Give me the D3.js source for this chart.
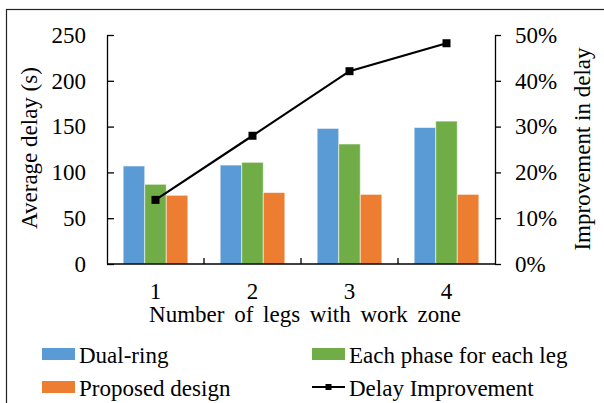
<!DOCTYPE html>
<html>
<head>
<meta charset="utf-8">
<script src="https://cdn.jsdelivr.net/npm/d3@7"></script>
<style>
  html, body { margin: 0; padding: 0; background: #fff; }
  svg { display: block; }
  svg text { font-family: "Liberation Serif", "DejaVu Serif", "Noto Serif", serif; fill: #000; }
</style>
</head>
<body>
<svg id="chart" width="604" height="403"></svg>
<script>
// Number of legs with a work zone
const categories = ["1", "2", "3", "4"];
// Average delay (s) per signal design
const dualRing = [107, 108, 148, 149];
const eachPhase = [87, 111, 131, 156];
const proposed = [75, 78, 76, 76];
// Improvement in delay of the proposed design (fraction)
const improvement = [0.14, 0.28, 0.421, 0.482];
const leftTicks = [0, 50, 100, 150, 200, 250];
const rightTicks = [0, 0.1, 0.2, 0.3, 0.4, 0.5];

const seriesNames = ["Dual-ring", "Each phase for each leg", "Proposed design"];
const seriesValues = [dualRing, eachPhase, proposed];
const colors = ["#5B9BD5", "#70AD47", "#ED7D31"];

const FONT = "'Liberation Serif', 'DejaVu Serif', serif";
const svg = d3.select("#chart");
const plot = { left: 107, right: 495, top: 35, bottom: 264 };

// outer frame
svg.append("rect")
  .attr("x", 6.5).attr("y", 9.5)
  .attr("width", 620).attr("height", 420)
  .attr("fill", "none").attr("stroke", "#222").attr("stroke-width", 1.2);

const x0 = d3.scaleBand().domain(categories)
  .range([plot.left, plot.right]).paddingInner(1 / 3).paddingOuter(1 / 6);
const x1 = d3.scaleBand().domain(d3.range(seriesNames.length))
  .range([0, x0.bandwidth()]);
const y = d3.scaleLinear().domain([0, 250]).range([plot.bottom, plot.top]);
const y2 = d3.scaleLinear().domain([0, 0.5]).range([plot.bottom, plot.top]);

// bars
const rows = categories.map((c, i) => ({ c, vals: seriesValues.map(s => s[i]) }));
const groups = svg.append("g").selectAll("g").data(rows).join("g")
  .attr("transform", d => `translate(${x0(d.c)},0)`);
groups.selectAll("rect").data(d => d.vals.map((v, k) => ({ v, k }))).join("rect")
  .attr("x", d => x1(d.k))
  .attr("y", d => y(d.v))
  .attr("width", x1.bandwidth())
  .attr("height", d => y(0) - y(d.v))
  .attr("fill", d => colors[d.k])
  .attr("stroke", "#fff").attr("stroke-opacity", 0.55).attr("stroke-width", 1);

// left axis, ticks pointing inward
const leftAxis = svg.append("g")
  .attr("transform", `translate(${plot.left},0)`)
  .call(d3.axisLeft(y).tickValues(leftTicks).tickSizeInner(-7).tickSizeOuter(0).tickPadding(21));
// right axis
const rightAxis = svg.append("g")
  .attr("transform", `translate(${plot.right},0)`)
  .call(d3.axisRight(y2).tickValues(rightTicks).tickFormat(d3.format(".0%"))
    .tickSizeInner(6).tickSizeOuter(0).tickPadding(14));
[leftAxis, rightAxis].forEach(a => {
  a.attr("font-family", FONT);
  a.select(".domain").attr("stroke", "#000").attr("stroke-width", 1.3);
  a.selectAll(".tick line").attr("stroke", "#000").attr("stroke-width", 1.3);
  a.selectAll(".tick text").attr("font-size", 23).attr("font-family", FONT).attr("fill", "#000");
});

// category axis
svg.append("line")
  .attr("x1", plot.left).attr("x2", plot.right)
  .attr("y1", plot.bottom).attr("y2", plot.bottom)
  .attr("stroke", "#000").attr("stroke-width", 1.3);
const step = x0.step();
svg.append("g").selectAll("line").data(categories.slice(1)).join("line")
  .attr("x1", d => x0(d) - (step - x0.bandwidth()) / 2)
  .attr("x2", d => x0(d) - (step - x0.bandwidth()) / 2)
  .attr("y1", plot.bottom).attr("y2", plot.bottom - 6)
  .attr("stroke", "#000").attr("stroke-width", 1.3);
svg.append("g").selectAll("text").data(categories).join("text")
  .attr("x", d => x0(d) + x0.bandwidth() / 2)
  .attr("y", 299)
  .attr("text-anchor", "middle")
  .attr("font-family", FONT).attr("font-size", 23)
  .text(d => d);

// improvement line with square markers
const cx = d => x0(d) + x0.bandwidth() / 2;
const pts = categories.map((c, i) => [cx(c), y2(improvement[i])]);
svg.append("path")
  .attr("d", d3.line()(pts))
  .attr("fill", "none").attr("stroke", "#000").attr("stroke-width", 2.2);
svg.append("g").selectAll("rect").data(pts).join("rect")
  .attr("x", d => d[0] - 4).attr("y", d => d[1] - 4)
  .attr("width", 8).attr("height", 8).attr("fill", "#000");

// axis titles
svg.append("text")
  .attr("transform", "translate(37,148) rotate(-90)")
  .attr("text-anchor", "middle")
  .attr("font-family", FONT).attr("font-size", 23)
  .text("Average delay (s)");
svg.append("text")
  .attr("transform", "translate(590,149) rotate(-90)")
  .attr("text-anchor", "middle")
  .attr("font-family", FONT).attr("font-size", 23)
  .text("Improvement in delay");
svg.append("text")
  .attr("x", (plot.left + plot.right) / 2 + 4).attr("y", 322)
  .attr("text-anchor", "middle")
  .attr("font-family", FONT).attr("font-size", 23)
  .style("word-spacing", "4px")
  .text("Number of legs with work zone");

// legend
const legendItems = [
  { name: seriesNames[0], kind: "bar", color: colors[0], x: 42, y: 354 },
  { name: seriesNames[1], kind: "bar", color: colors[1], x: 312, y: 354 },
  { name: seriesNames[2], kind: "bar", color: colors[2], x: 42, y: 387 },
  { name: "Delay Improvement", kind: "line", color: "#000", x: 312, y: 387 }
];
const lg = svg.append("g").selectAll("g").data(legendItems).join("g")
  .attr("transform", d => `translate(${d.x},${d.y})`);
lg.filter(d => d.kind === "bar").append("rect")
  .attr("x", 0).attr("y", -6).attr("width", 33).attr("height", 12)
  .attr("fill", d => d.color);
lg.filter(d => d.kind === "line").append("line")
  .attr("x1", 0).attr("x2", 33).attr("y1", 0).attr("y2", 0)
  .attr("stroke", "#000").attr("stroke-width", 2.2);
lg.filter(d => d.kind === "line").append("rect")
  .attr("x", 13.5).attr("y", -3).attr("width", 6).attr("height", 6).attr("fill", "#000");
lg.append("text")
  .attr("x", 37).attr("y", 9)
  .attr("font-family", FONT).attr("font-size", 23)
  .text(d => d.name);
</script>
</body>
</html>
